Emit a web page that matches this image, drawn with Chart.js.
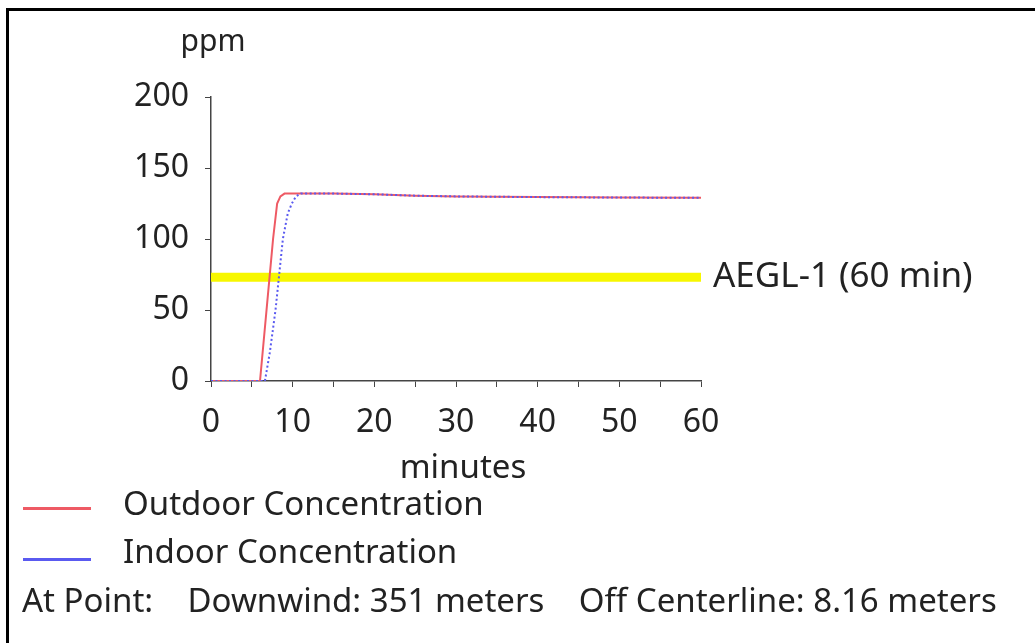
<!DOCTYPE html>
<html>
<head>
<meta charset="utf-8">
<script src="https://cdn.jsdelivr.net/npm/chart.js@4.4.1/dist/chart.umd.min.js"></script>
<style>
  html, body { margin:0; padding:0; background:#fff; }
  #wrap { position:relative; width:1035px; height:643px; overflow:hidden; font-family:"Noto Sans", sans-serif; color:#222; }
  #frame { position:absolute; left:6px; top:8px; width:1100px; height:700px; border-top:3px solid #000; border-left:3px solid #000; }
  canvas { position:absolute; left:0; top:0; }
  .leg { position:absolute; left:0; font-size:33px; white-space:nowrap; line-height:1; }
  .sw { position:absolute; left:23px; width:68px; height:3px; }
  .lt { position:absolute; left:123px; }
  #info { word-spacing:0px; }
</style>
</head>
<body>
<div id="wrap">
  <canvas id="c" width="1035" height="643"></canvas>
  <div id="frame"></div>
  <div class="leg" style="top:486px"><div class="sw" id="sw0" style="top:21px"></div><span class="lt" id="lt0"></span></div>
  <div class="leg" style="top:534px"><div class="sw" id="sw1" style="top:24px"></div><span class="lt" id="lt1"></span></div>
  <div class="leg" id="info" style="top:583px;left:22px"></div>
</div>
<script>
// ---- data ----
const outdoorTimes = [0, 6.0, 6.8, 7.6, 8.1, 8.5, 9.0, 10, 15, 20, 25, 30, 40, 50, 60];
const outdoorPpm   = [0, 0,   50,  100, 125, 130, 132, 132, 132, 131.5, 130.5, 130, 129.5, 129.2, 129];
const indoorTimes  = [0, 6.6, 7.2, 7.9, 8.8, 9.4, 9.9, 10.4, 11, 15, 20, 25, 30, 40, 50, 60];
const indoorPpm    = [0, 0,   20,  50,  100, 118, 125, 130, 132, 132, 131.5, 130.5, 130, 129.5, 129.2, 129];
const aeglTimes = [0, 60];
const aeglLevel = 73;
const seriesNames = ["Outdoor Concentration", "Indoor Concentration"];
const aeglName = "AEGL-1 (60 min)";
const xTitle = "minutes";
const yTitle = "ppm";
const xTicks = [0, 10, 20, 30, 40, 50, 60];
const yTicks = [0, 50, 100, 150, 200];
const infoText = "At Point:\u00a0\u00a0\u00a0\u00a0Downwind: 351 meters\u00a0\u00a0\u00a0\u00a0Off Centerline: 8.16 meters";
const colors = { outdoor:"#ee5a64", indoor:"#5a5af0", aegl:"#f7f700" };

const FONT = "Noto Sans";
const zip = (xs, ys) => xs.map((x, i) => ({x, y: ys[i]}));

const labelsPlugin = {
  id:'labelsPlugin',
  afterDraw(chart){
    const {ctx, scales:{x, y}} = chart;
    ctx.save();
    ctx.fillStyle = '#222';
    ctx.font = `35px "${FONT}"`;
    ctx.textBaseline = 'middle';
    ctx.textAlign = 'left';
    ctx.fillText(aeglName, x.getPixelForValue(60) + 12, y.getPixelForValue(aeglLevel));
    ctx.textAlign = 'center';
    ctx.textBaseline = 'alphabetic';
    ctx.font = `30px "${FONT}"`;
    ctx.fillText(yTitle, x.left + 2, y.top - 46);
    ctx.font = `33px "${FONT}"`;
    ctx.fillText(xTitle, (x.left + x.right) / 2 + 7, y.bottom + 97);
    ctx.restore();
  }
};

new Chart(document.getElementById('c'), {
  type:'line',
  data:{
    datasets:[
      { label:seriesNames[0], data:zip(outdoorTimes, outdoorPpm), borderColor:colors.outdoor, borderWidth:2, pointRadius:0, tension:0, order:1 },
      { label:seriesNames[1], data:zip(indoorTimes, indoorPpm), borderColor:colors.indoor, borderWidth:2, borderDash:[2,2.5], pointRadius:0, tension:0, order:0 },
      { label:aeglName, data:aeglTimes.map(t => ({x:t, y:aeglLevel})), borderColor:colors.aegl, borderWidth:9, pointRadius:0, order:2 }
    ]
  },
  options:{
    responsive:false, animation:false,
    layout:{ padding:{ left:0, top:97, right:334, bottom:156 } },
    plugins:{ legend:{display:false}, tooltip:{enabled:false} },
    scales:{
      x:{
        type:'linear', min:0, max:60,
        afterBuildTicks(s){ s.ticks = []; for(let v=0; v<=60; v+=5) s.ticks.push({value:v}); },
        afterFit(s){ s.height = 106; },
        ticks:{ autoSkip:false, maxRotation:0, padding:17, color:'#222', font:{family:FONT, size:32},
          callback:(v)=> xTicks.includes(v) ? String(v) : '' },
        grid:{ display:true, drawOnChartArea:false, drawTicks:true, tickLength:6, color:'#444' },
        border:{ display:true, color:'#444', width:1.5 },
        title:{ display:false }
      },
      y:{
        type:'linear', min:0, max:200,
        afterBuildTicks(s){ s.ticks = yTicks.map(v => ({value:v})); },
        afterFit(s){ s.width = 211; },
        ticks:{ padding:16, color:'#222', font:{family:FONT, size:32} },
        grid:{ display:true, drawOnChartArea:false, drawTicks:true, tickLength:6, color:'#444' },
        border:{ display:true, color:'#444', width:1.5 }
      }
    }
  },
  plugins:[labelsPlugin]
});

document.getElementById('sw0').style.background = colors.outdoor;
document.getElementById('sw1').style.background = colors.indoor;
document.getElementById('lt0').textContent = seriesNames[0];
document.getElementById('lt1').textContent = seriesNames[1];
document.getElementById('info').textContent = infoText;
</script>
</body>
</html>
